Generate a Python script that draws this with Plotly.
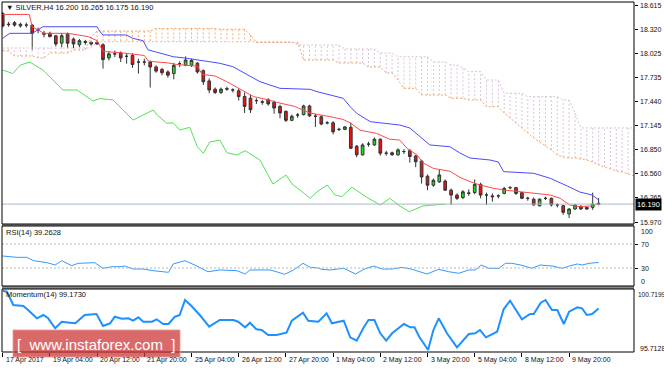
import plotly.graph_objects as go

# ---------------- data ----------------
opens = [18.51, 18.375, 18.40, 18.36, 18.37, 18.37, 18.31, 18.27, 18.27, 18.24,
         18.15, 18.26, 18.20, 18.13, 18.17, 18.16, 18.16, 18.13, 17.97, 18.02,
         18.03, 17.99, 18.00, 17.92, 17.92, 17.92, 17.86, 17.83, 17.80, 17.78,
         17.90, 17.88, 17.88, 17.905, 17.815, 17.69, 17.59, 17.55, 17.59, 17.58,
         17.57, 17.50, 17.48, 17.45, 17.43, 17.46, 17.43, 17.38, 17.32, 17.21,
         17.275, 17.28, 17.385, 17.26, 17.255, 17.18, 17.18, 17.10, 17.10, 17.125,
         16.895, 16.79, 16.92, 16.91, 16.98, 16.81, 16.815, 16.79, 16.83, 16.84,
         16.775, 16.715, 16.53, 16.42, 16.46, 16.47, 16.36, 16.30, 16.27, 16.32,
         16.33, 16.43, 16.30, 16.29, 16.29, 16.32, 16.39, 16.39, 16.33, 16.26,
         16.25, 16.17, 16.26, 16.26, 16.18, 16.17, 16.07, 16.13, 16.16, 16.15,
         16.15, 16.200]
highs = [18.53, 18.41, 18.42, 18.40, 18.40, 18.38, 18.34, 18.30, 18.29, 18.25,
         18.27, 18.28, 18.22, 18.20, 18.19, 18.18, 18.18, 18.15, 18.05, 18.06,
         18.05, 18.03, 18.03, 17.96, 17.96, 17.94, 17.88, 17.85, 17.82, 17.91,
         17.93, 17.99, 17.96, 17.92, 17.83, 17.72, 17.61, 17.61, 17.62, 17.60,
         17.60, 17.55, 17.52, 17.48, 17.46, 17.48, 17.45, 17.40, 17.33, 17.28,
         17.30, 17.40, 17.40, 17.29, 17.27, 17.20, 17.20, 17.12, 17.14, 17.18,
         16.91, 16.93, 16.95, 17.00, 16.99, 16.84, 16.83, 16.87, 16.86, 16.86,
         16.79, 16.73, 16.55, 16.50, 16.615, 16.49, 16.38, 16.32, 16.36, 16.37,
         16.49, 16.45, 16.33, 16.32, 16.31, 16.40, 16.41, 16.40, 16.34, 16.28,
         16.27, 16.26, 16.28, 16.27, 16.20, 16.18, 16.14, 16.19, 16.18, 16.16,
         16.33, 16.265]
lows = [18.34, 18.35, 18.35, 18.34, 18.34, 18.07, 18.27, 18.22, 18.22, 18.11,
        18.10, 18.09, 18.09, 18.10, 18.13, 18.12, 18.13, 17.84, 17.94, 17.98,
        17.92, 17.90, 17.85, 17.78, 17.88, 17.61, 17.79, 17.76, 17.73, 17.71,
        17.86, 17.87, 17.86, 17.78, 17.64, 17.54, 17.53, 17.53, 17.57, 17.55,
        17.45, 17.30, 17.30, 17.41, 17.40, 17.39, 17.29, 17.235, 17.19, 17.20,
        17.24, 17.27, 17.25, 17.13, 17.15, 17.16, 17.04, 17.08, 17.09, 16.86,
        16.76, 16.78, 16.89, 16.90, 16.78, 16.78, 16.78, 16.78, 16.80, 16.695,
        16.64, 16.44, 16.36, 16.40, 16.45, 16.35, 16.18, 16.24, 16.25, 16.29,
        16.31, 16.26, 16.18, 16.22, 16.26, 16.31, 16.37, 16.30, 16.25, 16.23,
        16.17, 16.16, 16.24, 16.16, 16.15, 16.06, 16.02, 16.12, 16.12, 16.12,
        16.12, 16.175]
closes = [18.36, 18.38, 18.37, 18.38, 18.37, 18.27, 18.31, 18.26, 18.23, 18.14,
          18.24, 18.15, 18.14, 18.18, 18.16, 18.14, 18.14, 17.95, 18.02, 18.02,
          17.97, 17.99, 17.89, 17.92, 17.92, 17.86, 17.81, 17.79, 17.76, 17.88,
          17.90, 17.945, 17.94, 17.80, 17.68, 17.58, 17.55, 17.59, 17.595, 17.58,
          17.50, 17.38, 17.34, 17.45, 17.435, 17.41, 17.36, 17.30, 17.21, 17.26,
          17.275, 17.385, 17.265, 17.26, 17.165, 17.18, 17.07, 17.10, 17.13, 16.87,
          16.79, 16.91, 16.92, 16.98, 16.81, 16.81, 16.79, 16.85, 16.83, 16.77,
          16.705, 16.52, 16.42, 16.48, 16.545, 16.36, 16.30, 16.26, 16.34, 16.325,
          16.43, 16.30, 16.30, 16.28, 16.29, 16.38, 16.39, 16.32, 16.26, 16.26,
          16.18, 16.25, 16.26, 16.18, 16.18, 16.09, 16.13, 16.18, 16.13, 16.13,
          16.19, 16.190]
bars = list(range(len(opens)))

tenkan_x = [0, 4.5, 5, 7, 11, 12.5, 14.5, 16, 17, 20.5, 22, 24, 24.7, 28, 29.5, 33, 33.8, 36, 38, 40,
            42.5, 45, 47, 49.5, 52, 55.5, 57.7, 58.9, 60.6, 63.4, 65.6, 67.3, 68.5, 70.2, 71.3, 73, 75,
            75.8, 77.5, 79.2, 80.9, 83.2, 84.9, 87.7, 90, 92.8, 94.5, 96.1, 97.8, 99.5, 101]
tenkan_v = [18.50, 18.50, 18.35, 18.27, 18.27, 18.25, 18.23, 18.18, 18.05, 18.03, 18.02, 18.00, 17.93,
            17.91, 17.89, 17.87, 17.77, 17.75, 17.68, 17.60, 17.50, 17.46, 17.42, 17.38, 17.30, 17.255,
            17.22, 17.18, 17.09, 17.05, 16.98, 16.97, 16.87, 16.79, 16.69, 16.625, 16.605, 16.59, 16.516,
            16.463, 16.423, 16.382, 16.362, 16.341, 16.329, 16.301, 16.26, 16.179, 16.158, 16.167, 16.19]

kijun_x = [0, 1.2, 5, 6.8, 16, 16.5, 17, 21, 22, 23.8, 24.6, 28.9, 31.2, 33.4, 36.8, 39, 41.9, 43.6, 47,
           52.1, 53.3, 57.7, 58.9, 60, 62.3, 65.1, 67.3, 69, 70.7, 72.4, 75.8, 77.5, 79.2, 82.6, 84, 84.9,
           90, 92.8, 95.7, 97.8, 99.9, 101]
kijun_v = [18.21, 18.27, 18.27, 18.35, 18.35, 18.29, 18.25, 18.25, 18.21, 18.18, 18.07, 17.985, 17.966,
           17.945, 17.905, 17.864, 17.742, 17.681, 17.60, 17.588, 17.559, 17.479, 17.376, 17.296, 17.194,
           17.174, 17.153, 17.117, 17.011, 16.91, 16.889, 16.812, 16.751, 16.727, 16.703, 16.585, 16.565,
           16.504, 16.41, 16.337, 16.301, 16.24]

chikou_x = [0, 1.7, 3, 4.6, 6.8, 8.9, 10.2, 12.6, 14.3, 15.3, 16.5, 18.7, 20.4, 22.1, 23.8, 25.5, 26.2,
            27.8, 28.9, 30, 31.7, 33, 34, 35.1, 36.8, 38, 39.7, 41.1, 43.6, 45.8, 48, 49.2, 50.4, 52.1,
            53.3, 55, 56.3, 57.5, 59.2, 61.9, 64, 65.6, 67.3, 68.9, 71.2, 73.6, 75]
chikou_v = [17.823, 17.78, 17.884, 17.92, 17.823, 17.665, 17.58, 17.58, 17.494, 17.446, 17.476, 17.458,
            17.336, 17.214, 17.275, 17.336, 17.275, 17.174, 17.18, 17.092, 17.125, 16.889, 16.809, 16.946,
            16.97, 16.816, 16.788, 16.84, 16.727, 16.435, 16.544, 16.423, 16.362, 16.26, 16.34, 16.423,
            16.301, 16.282, 16.395, 16.264, 16.179, 16.26, 16.167, 16.097, 16.167, 16.179, 16.191]

# Senkou spans, one value per bar (bars 0..107, they run 6 bars past the last candle)
senkou_a = ([18.055] * 2 + [17.994] * 4 + [17.969] * 2 + [18.030] * 4 + [18.067] * 3 + [18.229] +
            [18.298] * 10 + [18.329] * 11 + [18.319] * 5 + [18.250] + [18.158] * 8 + [17.945] * 6 +
            [17.909] * 5 + [17.860] * 3 + [17.787] * 2 + [17.701] + [17.600] * 3 + [17.519] * 5 +
            [17.479] * 3 + [17.458] * 3 + [17.376] * 3 +
            [17.300, 17.239, 17.178, 17.117, 17.056, 16.995, 16.946, 16.898, 16.849, 16.788, 16.764,
             16.751, 16.751, 16.739, 16.727, 16.703, 16.666, 16.642, 16.617, 16.593, 16.581, 16.557,
             16.532])
senkou_b = ([18.091] * 16 + [18.168] * 34 + [18.128] * 8 + [18.079] * 6 + [18.030] * 3 + [17.985] * 6 +
            [17.921] * 3 + [17.884] * 2 + [17.848] + [17.803] * 3 + [17.701] * 3 + [17.539] * 4 +
            [17.498] * 6 + [17.458] * 2 + [17.300] + [17.117] * 10)
cloud_bars = list(range(len(senkou_a)))

rsi_x = [0, 1.2, 2.4, 4.1, 5.2, 7.5, 8.9, 10, 11.7, 12.8, 14.5, 15.6, 17, 18.5, 19.9, 20.7, 22.1, 23.8,
         25.5, 26.7, 28.1, 28.9, 30.9, 32.9, 34.8, 36.8, 38.5, 39.7, 41.1, 41.9, 43.3, 45.3, 46.4, 47.8,
         49.3, 50.9, 52.1, 53.2, 54.1, 55.5, 57.8, 59.8, 61.2, 62.9, 64.3, 66, 67.7, 69.4, 71.9, 73.9,
         75.6, 77.3, 79, 80.1, 81.1, 82.4, 84.1, 85.2, 86.3, 88, 89.7, 91.1, 93.1, 94.9, 96, 97.4, 98.2,
         99.4, 101]
rsi_v = [50.0, 48.9, 47.8, 47.8, 42.2, 38.9, 35.0, 42.2, 33.9, 37.8, 37.8, 38.9, 29.5, 32.2, 32.2, 33.3,
         28.3, 28.3, 25.5, 23.8, 22.8, 36.7, 42.2, 33.3, 23.8, 26.7, 26.7, 25.5, 20.0, 26.7, 26.7, 26.7,
         23.8, 19.5, 26.7, 37.8, 31.1, 30.5, 27.8, 26.7, 29.5, 20.0, 27.8, 33.3, 28.3, 28.3, 31.1, 27.8,
         20.0, 27.8, 23.8, 21.2, 26.7, 26.7, 35.0, 29.5, 29.5, 37.8, 37.8, 34.5, 29.5, 35.0, 33.3, 29.5,
         33.3, 36.7, 35.0, 37.8, 39.26]

mom_x = [0, 0.7, 1.8, 3.5, 4.3, 5.2, 5.8, 6.9, 7.7, 8.9, 10, 11.4, 12.3, 13.9, 15.9, 17, 18.2, 19, 20.2,
         21.3, 22.1, 23, 23.8, 25.3, 26.1, 27.2, 28.1, 29.2, 30, 30.9, 32, 33.4, 35, 36.8, 39.1, 39.9,
         41.1, 41.9, 43, 43.9, 45, 46.4, 48.1, 49, 50.9, 51.8, 53.5, 54.9, 55.8, 57.8, 58.9, 60, 61.2,
         62, 63, 64, 65, 66, 68, 69.1, 69.8, 70.6, 72.1, 73, 73.9, 75.3, 77, 79, 80.1, 80.9, 81.9, 83.8,
         84.9, 86, 88, 89.4, 90, 91.2, 92, 93.1, 94, 95.1, 96, 97.4, 98.2, 99, 99.9, 101]
mom_v = [100.585, 100.505, 99.448, 99.37, 99.05, 98.653, 98.391, 98.653, 98.391, 97.596, 98.121, 98.04,
         97.994, 98.653, 98.733, 97.779, 97.994, 98.518, 98.36, 98.391, 98.2, 98.47, 98.121, 98.121,
         98.312, 97.938, 97.938, 98.518, 98.653, 99.846, 99.37, 98.653, 97.723, 98.256, 98.256, 98.121,
         97.676, 98.04, 97.517, 97.461, 97.064, 97.064, 97.247, 98.2, 98.836, 98.2, 98.121, 98.788,
         97.994, 98.2, 96.881, 96.611, 97.676, 98.256, 98.256, 97.199, 96.611, 97.199, 97.938, 97.676,
         97.676, 96.929, 95.872, 97.461, 98.391, 97.199, 96.086, 97.143, 97.199, 97.461, 96.881, 97.326,
         99.106, 99.79, 98.312, 98.733, 98.733, 99.631, 99.846, 99.05, 99.05, 97.938, 98.915, 99.265,
         99.185, 98.653, 98.733, 99.173]

time_ticks = [0, 8, 16, 24, 32, 40, 48, 56, 64, 72, 80, 88, 96]
time_labels = ["17 Apr 2017", "19 Apr 04:00", "20 Apr 12:00", "21 Apr 20:00", "25 Apr 04:00",
               "26 Apr 12:00", "27 Apr 20:00", "1 May 04:00", "2 May 12:00", "3 May 20:00",
               "5 May 04:00", "8 May 12:00", "9 May 20:00"]
price_ticks = [18.615, 18.320, 18.025, 17.735, 17.440, 17.145, 16.850, 16.560, 16.265, 15.970]
price_labels = ["18.615", "18.320", "18.025", "17.735", "17.440", "17.145", "16.850", "16.560",
                "16.265", "15.970"]
last_price = 16.190
rsi_levels = [70, 30]
rsi_last = "39.2628"
mom_last = "99.1730"
mom_max, mom_min = 100.7199, 95.7128

# ---------------- layout helpers ----------------
W, H = 664, 369
ML, MR, MT, MB = 2, 30, 2, 17
PW = W - ML - MR
PH = H - MT - MB
FONT = "Liberation Sans, Arial, sans-serif"


def px(x):
    return (x - ML) / PW


def py(y):
    return (H - MB - y) / PH


XR = [-0.12, 107.0]

fig = go.Figure()

# cloud hatching
hx_o, hy_o, hx_p, hy_p = [], [], [], []
for i, a, b in zip(cloud_bars, senkou_a, senkou_b):
    if a >= b:
        hx_o += [i, i, None]
        hy_o += [a, b, None]
    else:
        hx_p += [i, i, None]
        hy_p += [a, b, None]
fig.add_trace(go.Scatter(x=hx_o, y=hy_o, mode="lines", line=dict(color="#f4b07a", width=1, dash="2px,2px"),
                         hoverinfo="skip", showlegend=False))
fig.add_trace(go.Scatter(x=hx_p, y=hy_p, mode="lines", line=dict(color="#dcc4dc", width=1, dash="2px,2px"),
                         hoverinfo="skip", showlegend=False))
fig.add_trace(go.Scatter(x=cloud_bars, y=senkou_a, mode="lines",
                         line=dict(color="#f4a460", width=1, dash="2px,2px"), showlegend=False))
fig.add_trace(go.Scatter(x=cloud_bars, y=senkou_b, mode="lines",
                         line=dict(color="#d8bfd8", width=1, dash="2px,2px"), showlegend=False))

fig.add_trace(go.Candlestick(
    x=bars, open=opens, high=highs, low=lows, close=closes,
    increasing=dict(line=dict(color="#333333", width=1), fillcolor="#22dd22"),
    decreasing=dict(line=dict(color="#333333", width=1), fillcolor="#ee1111"),
    whiskerwidth=0, showlegend=False))

fig.add_trace(go.Scatter(x=tenkan_x, y=tenkan_v, mode="lines", line=dict(color="#ff4a4a", width=1),
                         showlegend=False))
fig.add_trace(go.Scatter(x=kijun_x, y=kijun_v, mode="lines", line=dict(color="#4a4aff", width=1),
                         showlegend=False))
fig.add_trace(go.Scatter(x=chikou_x, y=chikou_v, mode="lines", line=dict(color="#55e055", width=1),
                         showlegend=False))

fig.add_trace(go.Scatter(x=rsi_x, y=rsi_v, mode="lines", line=dict(color="#3399ff", width=1),
                         xaxis="x2", yaxis="y2", showlegend=False))
fig.add_trace(go.Scatter(x=mom_x, y=mom_v, mode="lines", line=dict(color="#1e90ff", width=2),
                         xaxis="x3", yaxis="y3", showlegend=False))

tick_font = dict(family=FONT, size=7, color="#111111")
lab_font = dict(family=FONT, size=7.5, color="#111111")

shapes = []
# horizontal price line
shapes.append(dict(type="line", xref="paper", x0=0, x1=1, yref="y", y0=last_price, y1=last_price,
                   line=dict(color="#a9b8c6", width=1)))
# RSI levels
for lv in rsi_levels:
    shapes.append(dict(type="line", xref="paper", x0=0, x1=1, yref="y2", y0=lv, y1=lv,
                       line=dict(color="#b8b8b8", width=1, dash="2px,2px")))
# separators
shapes.append(dict(type="rect", xref="paper", x0=0, x1=1, yref="paper", y0=py(226), y1=py(224),
                   fillcolor="#8a8a8a", line=dict(width=0)))
shapes.append(dict(type="rect", xref="paper", x0=0, x1=1, yref="paper", y0=py(289), y1=py(286),
                   fillcolor="#8a8a8a", line=dict(width=0)))
# panel frames
for (ya, yb) in [(2, 224), (226, 286), (289, 352)]:
    shapes.append(dict(type="rect", xref="paper", x0=0, x1=1, yref="paper", y0=py(yb), y1=py(ya),
                       line=dict(color="#000000", width=1), fillcolor="rgba(0,0,0,0)"))
# watermark box
shapes.append(dict(type="rect", xref="paper", yref="paper", x0=px(13), x1=px(180), y0=py(357), y1=py(330),
                   fillcolor="rgba(204,48,48,0.72)", line=dict(color="rgba(230,150,150,0.8)", width=1),
                   layer="above"))

ann = []
ann.append(dict(text="▼ SILVER,H4 16.200 16.265 16.175 16.190", xref="paper", yref="paper",
                x=px(4), y=py(8), xanchor="left", yanchor="middle", showarrow=False, font=lab_font))
ann.append(dict(text="RSI(14) " + rsi_last, xref="paper", yref="paper", x=px(4), y=py(233),
                xanchor="left", yanchor="middle", showarrow=False, font=lab_font))
ann.append(dict(text="Momentum(14) " + mom_last, xref="paper", yref="paper", x=px(4), y=py(294),
                xanchor="left", yanchor="middle", showarrow=False, font=lab_font))
# price labels
for v, lab in zip(price_ticks, price_labels):
    ann.append(dict(text=lab, xref="paper", yref="y", x=px(638), y=v, xanchor="left", yanchor="middle",
                    showarrow=False, font=tick_font))
# current price box
ann.append(dict(text="16.190", xref="paper", yref="y", x=px(635), y=last_price, xanchor="left",
                yanchor="middle", showarrow=False, bgcolor="#000000", borderpad=1,
                font=dict(family=FONT, size=7.5, color="#ffffff")))
# RSI labels
for v in rsi_levels:
    ann.append(dict(text=str(v), xref="paper", yref="y2", x=px(639), y=v, xanchor="left",
                    yanchor="middle", showarrow=False, font=tick_font))
ann.append(dict(text="100", xref="paper", yref="paper", x=px(639), y=py(231), xanchor="left",
                yanchor="middle", showarrow=False, font=tick_font))
ann.append(dict(text="0", xref="paper", yref="paper", x=px(639), y=py(281), xanchor="left",
                yanchor="middle", showarrow=False, font=tick_font))
# momentum labels
ann.append(dict(text=f"{mom_max:.4f}", xref="paper", yref="paper", x=px(636), y=py(294), xanchor="left",
                yanchor="middle", showarrow=False, font=dict(family=FONT, size=6.5, color="#111111")))
ann.append(dict(text=f"{mom_min:.4f}", xref="paper", yref="paper", x=px(638), y=py(348), xanchor="left",
                yanchor="middle", showarrow=False, font=tick_font))
# time labels
for t, lab in zip(time_ticks, time_labels):
    ann.append(dict(text=lab, xref="x3", yref="paper", x=t, y=py(360), xanchor="left", yanchor="middle",
                    xshift=1, showarrow=False, font=tick_font))
# watermark text
ann.append(dict(text="[  www.instaforex.com  ]", xref="paper", yref="paper", x=px(96), y=py(344),
                xanchor="center", yanchor="middle", showarrow=False,
                font=dict(family=FONT, size=15, color="#ffffff")))

noax = dict(showgrid=False, zeroline=False, automargin=False)
fig.update_layout(
    width=W, height=H, margin=dict(l=ML, r=MR, t=MT, b=MB, autoexpand=False),
    paper_bgcolor="#ffffff", plot_bgcolor="#ffffff",
    showlegend=False, boxgap=0.35, hovermode=False,
    xaxis=dict(domain=[0, 1], range=XR, anchor="y", showticklabels=False,
               rangeslider=dict(visible=False), ticks="", **noax),
    xaxis2=dict(domain=[0, 1], range=XR, anchor="y2", showticklabels=False, ticks="", **noax),
    xaxis3=dict(domain=[0, 1], range=XR, anchor="y3", showticklabels=False,
                tickmode="array", tickvals=time_ticks, ticks="outside", ticklen=4, tickcolor="#000000", **noax),
    yaxis=dict(domain=[py(224), 1], range=[15.9475, 18.6515], side="right", anchor="x",
               tickmode="array", tickvals=price_ticks, ticks="outside", ticklen=3,
               tickcolor="#000000", showticklabels=False, **noax),
    yaxis2=dict(domain=[py(286), py(226)], range=[0, 100], side="right", anchor="x2",
                tickmode="array", tickvals=rsi_levels, ticks="outside",
                ticklen=3, tickcolor="#000000", showticklabels=False, **noax),
    yaxis3=dict(domain=[0, py(289)], range=[mom_min, mom_max], side="right", anchor="x3",
                showticklabels=False, ticks="", **noax),
    shapes=shapes, annotations=ann,
)

fig.write_html("out.html", config={"displayModeBar": False, "staticPlot": True},
               post_script="document.body.style.margin='0px';document.body.style.overflow='hidden';")
